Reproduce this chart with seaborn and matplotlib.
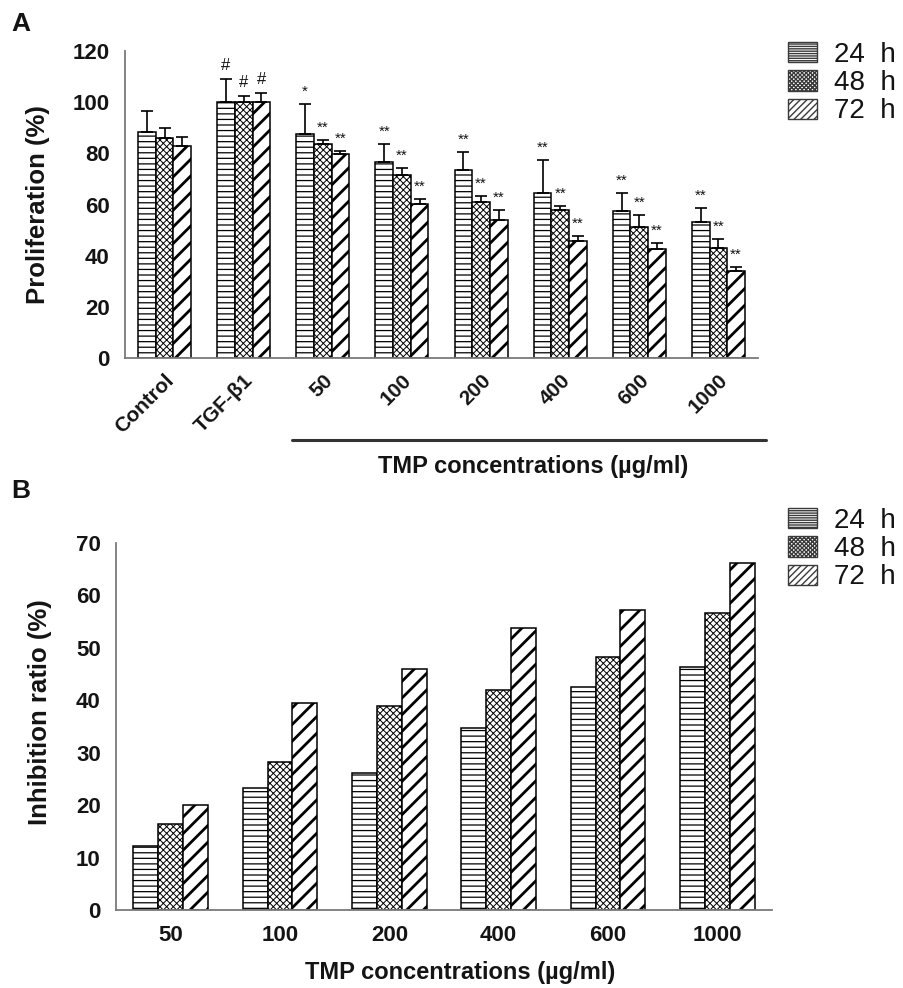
import numpy as np
import pandas as pd
import matplotlib
matplotlib.use("Agg")
import matplotlib.pyplot as plt
from matplotlib.patches import Patch
from matplotlib.container import BarContainer
import seaborn as sns

# ---------------- data ----------------
times = ["24 h", "48 h", "72 h"]
legend_labels = ["24  h", "48  h", "72  h"]

cats_A = ["Control", "TGF-β1", "50", "100", "200", "400", "600", "1000"]
prolif_24 = [88.3, 100, 87.5, 76.7, 73.4, 64.6, 57.3, 53.3]
prolif_48 = [86.0, 100, 83.7, 71.6, 60.9, 57.9, 51.4, 42.9]
prolif_72 = [83.0, 100, 79.7, 60.0, 53.8, 45.9, 42.5, 33.9]
err_24 = [8.3, 9.0, 11.8, 6.8, 7.2, 12.7, 7.3, 5.5]
err_48 = [3.9, 2.4, 1.5, 2.8, 2.6, 1.7, 4.6, 3.6]
err_72 = [3.4, 3.6, 1.3, 2.0, 4.0, 1.8, 2.3, 1.8]
sig_24 = ["", "#", "*", "**", "**", "**", "**", "**"]
sig_48 = ["", "#", "**", "**", "**", "**", "**", "**"]
sig_72 = ["", "#", "**", "**", "**", "**", "**", "**"]

cats_B = ["50", "100", "200", "400", "600", "1000"]
inhib_24 = [12.2, 23.3, 26.1, 34.8, 42.5, 46.3]
inhib_48 = [16.4, 28.3, 38.9, 42.0, 48.2, 56.7]
inhib_72 = [20.0, 39.5, 46.0, 53.8, 57.2, 66.1]

# ---------------- style ----------------
sns.set_style("white")
plt.rcParams["font.family"] = ["Liberation Sans", "DejaVu Sans"]
plt.rcParams["hatch.linewidth"] = 1.0
TXT = "#141414"
AX = "#7a7a7a"
hatches = ["---", "xxxxx", "//"]
hatch_lw = [0.9, 0.7, 2.0]
legend_hatches = ["-------", "xxxxxxxx", "/////"]
TICK_FS = 16
LABEL_FS = 18.5

dfA = pd.DataFrame({
    "cat": np.repeat(cats_A, 3),
    "time": times * len(cats_A),
    "val": np.ravel(np.column_stack([prolif_24, prolif_48, prolif_72])),
})
dfB = pd.DataFrame({
    "cat": np.repeat(cats_B, 3),
    "time": times * len(cats_B),
    "val": np.ravel(np.column_stack([inhib_24, inhib_48, inhib_72])),
})

fig = plt.figure(figsize=(9.04, 9.88), dpi=100)
axA = fig.add_axes([125 / 904, 1 - 358 / 988, 633 / 904, 307 / 988])
axB = fig.add_axes([116 / 904, 1 - 910 / 988, 656 / 904, 367 / 988])


def bar_containers(ax):
    conts = [c for c in ax.containers if isinstance(c, BarContainer)]
    return sorted(conts, key=lambda c: min(b.get_x() for b in c))


def style_bars(ax):
    for i, cont in enumerate(bar_containers(ax)):
        for b in cont:
            b.set_hatch(hatches[i])
            b.set_facecolor("white")
            b.set_edgecolor("black")
            b.set_linewidth(1.1)
            if hasattr(b, "set_hatch_linewidth"):
                b.set_hatch_linewidth(hatch_lw[i])


def style_axis(ax, n, ymax, ystep, rot, xfs):
    ax.set_xlim(-0.5, n - 0.5)
    ax.set_ylim(0, ymax)
    ax.set_yticks(np.arange(0, ymax + 1, ystep))
    ax.set_xticks(np.arange(n))
    ax.set_xticks(np.arange(n + 1) - 0.5, minor=True)
    for s in ["top", "right"]:
        ax.spines[s].set_visible(False)
    for s in ["left", "bottom"]:
        ax.spines[s].set_color(AX)
        ax.spines[s].set_linewidth(1.3)
    ax.tick_params(axis="x", which="major", length=0)
    ax.tick_params(axis="x", which="minor", length=7, width=1.3, color=AX, direction="out")
    ax.tick_params(axis="y", length=7, width=1.3, color=AX, direction="out", pad=4)
    for lab in ax.get_yticklabels():
        lab.set_fontsize(TICK_FS)
        lab.set_fontweight("bold")
        lab.set_color(TXT)
    for lab in ax.get_xticklabels():
        lab.set_fontsize(xfs)
        lab.set_fontweight("bold")
        lab.set_color(TXT)
        if rot:
            lab.set_rotation(45)
            lab.set_ha("right")
            lab.set_rotation_mode("anchor")
    ax.set_xlabel("")
    ax.grid(False)


# ---------------- panel A ----------------
sns.barplot(data=dfA, x="cat", y="val", hue="time", order=cats_A, hue_order=times,
            width=0.67, palette=["white"] * 3, saturation=1, errorbar=None,
            legend=False, ax=axA)
style_bars(axA)
errs = [err_24, err_48, err_72]
sigs = [sig_24, sig_48, sig_72]
for i, cont in enumerate(bar_containers(axA)):
    bars = sorted(list(cont), key=lambda b: b.get_x())
    xs = np.array([b.get_x() + b.get_width() / 2 for b in bars])
    hs = np.array([b.get_height() for b in bars])
    e = np.array(errs[i])
    axA.errorbar(xs, hs, yerr=[np.zeros_like(e), e], fmt="none", ecolor="black",
                 elinewidth=1.2, capsize=4, capthick=1.2, zorder=3)
    for x, h, ee, s in zip(xs, hs, e, sigs[i]):
        if s:
            fs = 12 if s == "#" else 11
            off = 2.5 if s == "#" else 2.0
            axA.text(x, h + ee + off, s, ha="center", va="bottom", fontsize=fs, color=TXT)
style_axis(axA, len(cats_A), 120, 20, rot=True, xfs=15)
axA.tick_params(axis="x", which="major", pad=9)
axA.set_ylabel("Proliferation (%)", fontsize=LABEL_FS, fontweight="bold", color=TXT)
axA.yaxis.set_label_coords(-0.118, 0.5)
axA.plot([1.61, 7.6], [-0.267, -0.267], color="#333333", lw=2.2,
         transform=axA.get_xaxis_transform(), clip_on=False)
axA.text(4.66, -0.352, "TMP concentrations (µg/ml)", transform=axA.get_xaxis_transform(),
         ha="center", va="center", fontsize=17, fontweight="bold", color=TXT)

# ---------------- panel B ----------------
sns.barplot(data=dfB, x="cat", y="val", hue="time", order=cats_B, hue_order=times,
            width=0.68, palette=["white"] * 3, saturation=1, errorbar=None,
            legend=False, ax=axB)
style_bars(axB)
style_axis(axB, len(cats_B), 70, 10, rot=False, xfs=TICK_FS)
axB.tick_params(axis="x", which="major", pad=11)
axB.set_ylabel("Inhibition ratio (%)", fontsize=LABEL_FS, fontweight="bold", color=TXT)
axB.yaxis.set_label_coords(-0.097, 0.54)
axB.text(0.524, -0.169, "TMP concentrations (µg/ml)", transform=axB.transAxes,
         ha="center", va="center", fontsize=17, fontweight="bold", color=TXT)

# ---------------- panel letters ----------------
fig.text(11 / 904, 1 - 24 / 988, "A", fontsize=19, fontweight="bold", color=TXT, va="center")
fig.text(11 / 904, 1 - 491 / 988, "B", fontsize=19, fontweight="bold", color=TXT, va="center")

# ---------------- legends ----------------
def make_handles():
    hs = []
    for i in range(3):
        p = Patch(facecolor="white", edgecolor="#3a3a3a", hatch=legend_hatches[i], linewidth=1.0)
        hs.append(p)
    return hs

for top in (1 - 42 / 988, 1 - 508 / 988):
    leg = fig.legend(make_handles(), legend_labels, loc="upper left",
                     bbox_to_anchor=(788 / 904, top), frameon=False, borderaxespad=0,
                     borderpad=0, fontsize=20, handlelength=1.05, handleheight=0.75,
                     handletextpad=0.6, labelspacing=0.08)
    for t in leg.get_texts():
        t.set_color(TXT)

fig.savefig("out.png", dpi=100)
